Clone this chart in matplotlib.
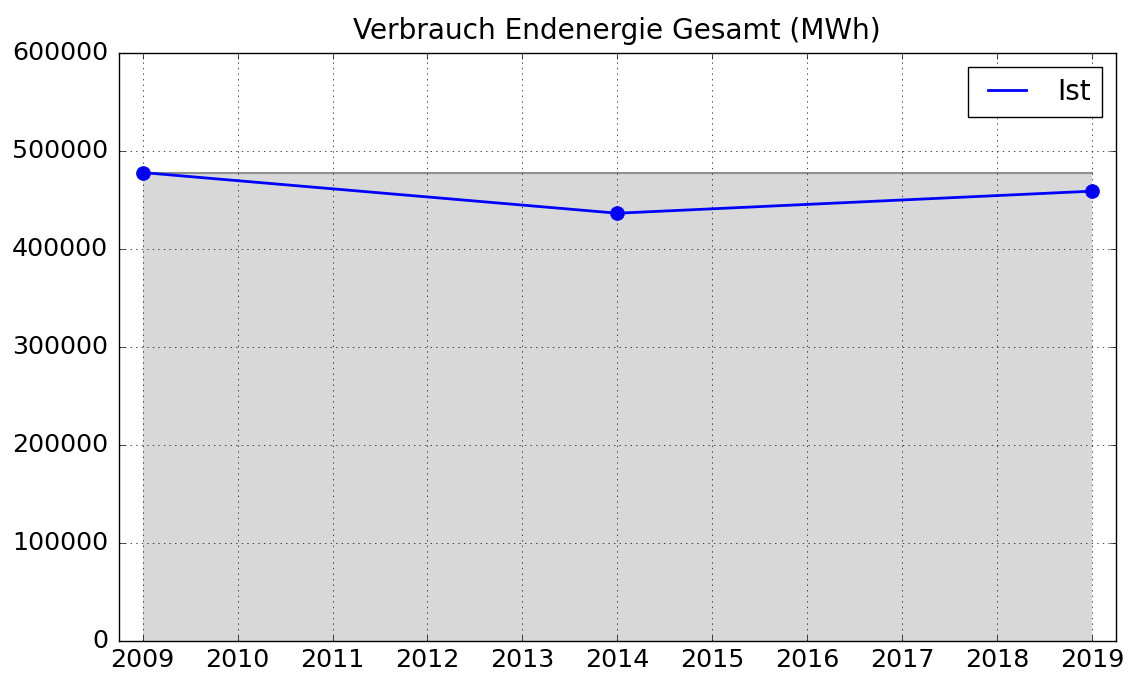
import numpy as np
import matplotlib
matplotlib.use('Agg')
import matplotlib.pyplot as plt

years = [2009, 2014, 2019]
ist = [478000, 436500, 459000]
baseline = 478000
all_years = np.arange(2009, 2020)

plt.style.use('classic')
plt.rcParams['font.size'] = 18.3

fig = plt.figure(figsize=(11.28, 6.75), dpi=100)
ax = fig.add_axes([0.1055, 0.0504, 0.8835, 0.8711])

ax.fill_between([years[0], years[-1]], 0, baseline, facecolor='#d8d8d8', edgecolor='none', linewidth=0)
ax.plot([years[0], years[-1]], [baseline, baseline], color='#909090', linewidth=1.5)
ax.plot(years, ist, color='blue', linewidth=2, label='Ist')
ax.plot(years, ist, 'o', color='blue', markeredgecolor='blue', markersize=10)

ax.set_xlim(2008.75, 2019.25)
ax.set_ylim(0, 600000)
ax.set_xticks(all_years)
ax.set_yticks(np.arange(0, 600001, 100000))
ax.ticklabel_format(useOffset=False, style='plain')
ax.tick_params(axis='y', pad=8)
ax.tick_params(axis='x', pad=5)
ax.grid(True)
ax.set_axisbelow(False)
ax.set_title('Verbrauch Endenergie Gesamt (MWh)', fontsize=20.2, pad=10)
ax.legend(loc='upper right', fontsize=20)

fig.savefig('out.png', dpi=100)
